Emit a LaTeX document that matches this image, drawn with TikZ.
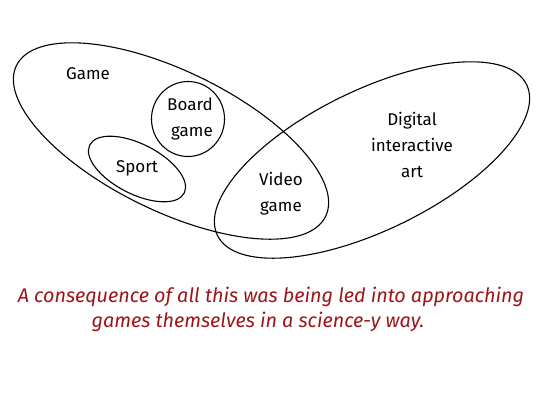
\documentclass[tikz,border=0pt]{standalone}
\usepackage{fontspec}
\setmainfont{Fira Sans}
\usetikzlibrary{shapes.geometric}
\definecolor{capred}{RGB}{158,20,24}
\tikzset{
  setring/.style={draw=black, line width=1.1pt, ellipse, inner sep=0pt},
  setlabel/.style={font=\fontsize{17}{26}\selectfont, align=center},
  caption/.style={font=\fontsize{19.8}{25}\selectfont\itshape, text=capred, align=center},
}
\begin{document}
\begin{tikzpicture}[x=1pt,y=-1pt]
\useasboundingbox (0,0) rectangle (540,405);
% the sets
\node[setring, minimum width=344pt, minimum height=140pt, rotate=-26] (game) at (171,141) {};
\node[setring, minimum width=73pt, minimum height=75pt] (board) at (188,119) {};
\node[setring, minimum width=106pt, minimum height=50pt, rotate=-27] (sport) at (137,169) {};
\node[setring, minimum width=344pt, minimum height=140pt, rotate=26] (digital) at (372,160) {};
% their names
\node[setlabel] (gamelbl) at (88,74) {Game};
\node[setlabel, align=right] (boardlbl) at (190,119) {Board\\game};
\node[setlabel] (sportlbl) at (137,168) {Sport};
\node[setlabel] (videolbl) at (281,194) {Video\\game};
\node[setlabel] (digitallbl) at (412,145) {Digital\\interactive\\art};
% caption
\node[caption] (note) at (271,309) {A consequence of all this was being led into approaching\\games themselves in a science-y way.\hspace*{26pt}};
\end{tikzpicture}
\end{document}
